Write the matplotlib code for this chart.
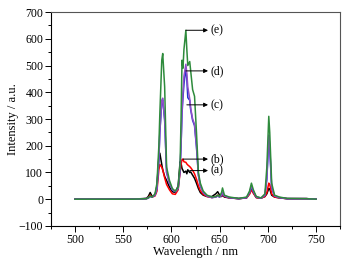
import matplotlib
matplotlib.use("Agg")
import matplotlib.pyplot as plt
from matplotlib.ticker import MultipleLocator

# wavelength knots (nm)
wl = [500, 560, 574, 576, 578, 580, 583, 585, 587, 588, 590, 591, 593, 595, 598,
      601, 604, 607, 609, 610, 611, 612, 613, 615, 616, 617, 619, 620, 622, 624,
      626, 628, 630, 633, 637, 642, 646, 648, 650, 652, 653, 655, 660, 670, 678,
      681, 683, 685, 688, 693, 697, 699, 701, 702, 704, 707, 712, 720, 740, 750]

spec_a = [0, 0, 3, 10, 25, 10, 15, 50, 160, 172, 130, 110, 85, 70, 45,
          28, 25, 50, 140, 135, 115, 108, 100, 105, 95, 110, 100, 102, 90, 78,
          60, 40, 25, 15, 10, 10, 20, 28, 15, 10, 15, 8, 5, 2, 5,
          22, 40, 25, 6, 4, 10, 20, 40, 38, 15, 8, 5, 2, 2, 0]
spec_b = [0, 0, 2, 5, 15, 8, 12, 30, 110, 130, 120, 110, 80, 55, 35,
          20, 18, 35, 100, 130, 148, 150, 140, 138, 132, 128, 122, 118, 108, 95,
          75, 50, 32, 18, 10, 6, 10, 15, 10, 12, 18, 10, 5, 2, 5,
          18, 35, 22, 6, 4, 10, 25, 60, 55, 20, 8, 5, 2, 2, 0]
spec_c = [0, 0, 2, 4, 10, 8, 15, 40, 150, 250, 365, 372, 295, 100, 60,
          35, 28, 40, 110, 200, 320, 380, 430, 490, 450, 380, 370, 335, 295, 275,
          195, 90, 50, 25, 12, 6, 8, 12, 8, 14, 24, 12, 6, 2, 6,
          24, 45, 28, 8, 4, 15, 75, 225, 190, 42, 12, 6, 2, 2, 0]
spec_d = [0, 0, 2, 4, 10, 8, 15, 40, 150, 250, 370, 378, 300, 100, 60,
          35, 28, 40, 110, 200, 330, 400, 460, 505, 470, 420, 375, 340, 300, 280,
          200, 90, 50, 25, 12, 6, 8, 12, 8, 15, 25, 12, 6, 2, 6,
          25, 50, 30, 8, 4, 15, 80, 240, 200, 45, 12, 6, 2, 2, 0]
spec_e = [0, 0, 2, 5, 12, 8, 20, 60, 200, 320, 520, 545, 420, 120, 70,
          40, 30, 45, 130, 300, 520, 490, 560, 632, 560, 500, 515, 480, 410, 385,
          250, 100, 60, 30, 15, 8, 10, 15, 10, 25, 42, 15, 8, 3, 8,
          30, 60, 35, 10, 5, 20, 120, 310, 250, 60, 15, 8, 3, 2, 0]

labels = ["(a)", "(b)", "(c)", "(d)", "(e)"]
# arrow start (wavelength, intensity) for each label
arrow_x = [619, 612, 616, 615, 615]
arrow_y = [107, 150, 353, 480, 632]

plt.rcParams["font.family"] = ["Liberation Serif", "DejaVu Serif"]
fig = plt.figure(figsize=(3.51, 2.63), dpi=100)
ax = fig.add_axes([0.145, 0.141, 0.824, 0.813])

colors = ["black", "red", "#2030d0", "#9050c8", "#2e8b3c"]
for s, c in zip([spec_a, spec_b, spec_c, spec_d, spec_e], colors):
    ax.plot(wl, s, color=c, lw=1.1)

for lab, x0, y0 in zip(labels, arrow_x, arrow_y):
    ax.annotate("", xy=(638, y0), xytext=(x0, y0),
                arrowprops=dict(arrowstyle="-|>", color="black", lw=0.7,
                                mutation_scale=6, shrinkA=0, shrinkB=0))
    ax.text(641, y0, lab, fontsize=8.5, va="center", ha="left")

ax.set_xlim(475, 775)
ax.set_ylim(-100, 700)
ax.xaxis.set_major_locator(MultipleLocator(50))
ax.xaxis.set_minor_locator(MultipleLocator(25))
ax.yaxis.set_major_locator(MultipleLocator(100))
ax.yaxis.set_minor_locator(MultipleLocator(50))
ax.tick_params(which="major", length=4, width=0.7, labelsize=8.5, pad=1.5)
ax.tick_params(which="minor", length=2.5, width=0.7)
for sp in ax.spines.values():
    sp.set_linewidth(0.8)
ax.spines["top"].set_color("#555555")
ax.spines["right"].set_color("#555555")
ax.set_xlabel("Wavelength / nm", fontsize=9, labelpad=0)
ax.set_ylabel("Intensity / a.u.", fontsize=9, labelpad=0)

fig.savefig("out.png", dpi=100)
